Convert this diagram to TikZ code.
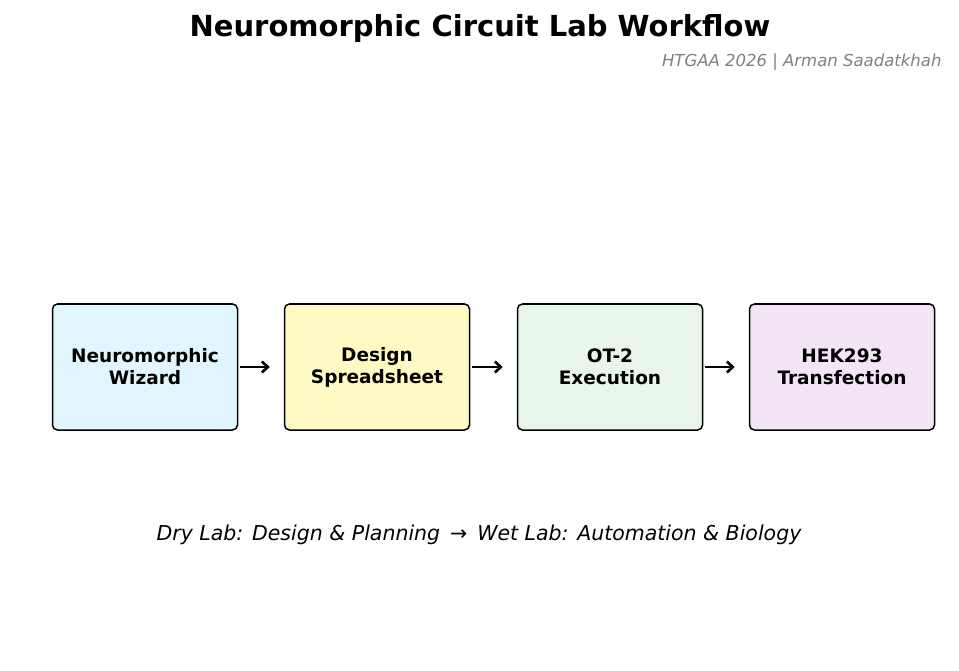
\documentclass[tikz,border=0pt]{standalone}
\usepackage{fontspec}
\setmainfont{DejaVu Sans}
\usetikzlibrary{positioning,arrows.meta}
\definecolor{wizbg}{HTML}{E1F5FE}
\definecolor{sheetbg}{HTML}{FFF9C4}
\definecolor{otbg}{HTML}{E8F5E9}
\definecolor{hekbg}{HTML}{F3E5F5}
\begin{document}
\begin{tikzpicture}
  [
    x=1pt, y=-1pt,
    stage/.style={draw, line width=1.5pt, rounded corners=5pt, minimum width=185pt,
      minimum height=126pt, align=center, font=\fontsize{18.5}{22}\selectfont\bfseries},
    flow/.style={line width=2.6pt, -{Straight Barb[length=6pt,width=11pt]}}
  ]
  \useasboundingbox (0,0) rectangle (959,671);
  \node [font=\fontsize{29}{34}\selectfont\bfseries] (title) at (480,29)
    {Neuromorphic Circuit Lab Workflow};
  \node [anchor=east, text=gray, font=\fontsize{16.5}{19}\selectfont\itshape] (sub) at (945,62)
    {HTGAA 2026 | Arman Saadatkhah};
  \node [stage, fill=wizbg]   (wiz)   at (145,367) {Neuromorphic\\Wizard};
  \node [stage, fill=sheetbg] (sheet) at (377,367) {Design\\Spreadsheet};
  \node [stage, fill=otbg]    (ot)    at (610,367) {OT-2\\Execution};
  \node [stage, fill=hekbg]   (hek)   at (842,367) {HEK293\\Transfection};
  \draw [flow] ([xshift=2pt]wiz.east) -- ([xshift=-14pt]sheet.west);
  \draw [flow] ([xshift=2pt]sheet.east) -- ([xshift=-14pt]ot.west);
  \draw [flow] ([xshift=2pt]ot.east) -- ([xshift=-14pt]hek.west);
  \node [font=\fontsize{20.5}{24}\selectfont\itshape] (phase) at (479,535)
    {Dry Lab: Design \& Planning \,\textrightarrow\, Wet Lab: Automation \& Biology};
\end{tikzpicture}
\end{document}
